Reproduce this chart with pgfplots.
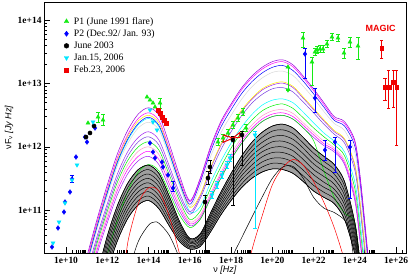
\documentclass[border=0pt]{standalone}
\usepackage{pgfplots}
\pgfplotsset{compat=1.18}
\usepackage{pgfplotstable}
\usepgfplotslibrary{fillbetween}
\usepackage{fontspec}
\setmainfont{Liberation Serif}
\newfontfamily\lsans{Liberation Sans}
\definecolor{cpurple}{RGB}{150,0,220}
\definecolor{cmag}{RGB}{255,0,255}
\definecolor{cblue}{RGB}{0,0,255}
\definecolor{cgray}{RGB}{215,215,215}
\definecolor{cyel}{RGB}{255,240,0}
\definecolor{cpur2}{RGB}{160,32,240}
\definecolor{cviol}{RGB}{120,60,225}
\definecolor{ccyan}{RGB}{0,255,255}
\definecolor{cgreen}{RGB}{0,240,0}
\definecolor{cpink}{RGB}{255,150,200}
\definecolor{dg}{RGB}{20,235,20}
\definecolor{dc}{RGB}{0,230,255}
\definecolor{dr}{RGB}{240,0,0}
\def\mx{10.301}
\foreach \n in {10,12,...,26}{\foreach \f in {301,477,602,699,778,845,903,954}{\xdef\mx{\mx,\n.\f}}}
\def\my{10.301}
\foreach \n in {10,...,14}{\foreach \f in {301,477,602,699,778,845,903,954}{\xdef\my{\my,\n.\f}}}
\pgfplotstableread{
x T B C D E F G H I J K L N b0 b1 b2 b3 b4 b5 b6 b7 b8
10.5 9.6 9.53 9.46 9.39 9.50 9.25 9.18 9.44 9.11 9.04 8.97 8.9 8.0 7.5 7.64 7.78 7.91 8.05 8.19 8.33 8.46 8.6
11.0 10.25 10.20 10.14 10.09 10.17 9.98 9.92 10.12 9.87 9.81 9.76 9.7 8.9 8.6 8.69 8.78 8.86 8.95 9.04 9.13 9.21 9.3
11.5 10.85 10.80 10.74 10.69 10.77 10.58 10.52 10.72 10.47 10.41 10.36 10.3 9.7 9.40 9.47 9.54 9.61 9.68 9.75 9.82 9.89 9.96
12.0 11.40 11.34 11.28 11.22 11.31 11.10 11.04 11.26 10.98 10.92 10.86 10.8 10.3 10.03 10.10 10.17 10.24 10.31 10.38 10.45 10.52 10.59
12.5 11.90 11.84 11.77 11.71 11.80 11.58 11.51 11.75 11.45 11.38 11.32 11.25 10.85 10.52 10.59 10.66 10.73 10.80 10.87 10.94 11.01 11.08
13.0 12.27 12.20 12.13 12.06 12.17 11.93 11.86 12.11 11.79 11.72 11.65 11.58 11.3 10.87 10.94 11.01 11.08 11.15 11.22 11.29 11.36 11.43
13.5 12.52 12.45 12.37 12.30 12.41 12.15 12.08 12.35 12.00 11.93 11.85 11.78 11.6 11.08 11.15 11.22 11.29 11.36 11.43 11.50 11.57 11.64
14.0 12.62 12.54 12.47 12.39 12.50 12.24 12.16 12.45 12.08 12.00 11.93 11.85 11.72 11.15 11.22 11.29 11.36 11.43 11.50 11.57 11.64 11.71
14.5 12.50 12.42 12.34 12.27 12.38 12.11 12.03 12.32 11.95 11.88 11.80 11.72 11.62 11.02 11.09 11.16 11.23 11.30 11.37 11.44 11.51 11.58
15.0 12.05 11.98 11.91 11.84 11.95 11.70 11.63 11.89 11.56 11.49 11.42 11.35 11.28 10.75 10.81 10.87 10.93 10.99 11.04 11.10 11.16 11.22
15.5 11.55 11.49 11.44 11.38 11.46 11.27 11.21 11.42 11.15 11.09 11.04 10.98 10.92 10.50 10.54 10.58 10.62 10.66 10.70 10.74 10.78 10.82
16.0 11.15 11.13 11.09 11.05 11.04 10.97 10.93 10.97 10.85 10.81 10.78 10.75 10.72 10.38 10.40 10.42 10.44 10.47 10.49 10.51 10.53 10.55
16.5 11.50 11.47 11.44 11.37 11.24 11.22 11.18 11.05 10.98 10.92 10.88 10.85 10.85 10.42 10.45 10.47 10.50 10.52 10.55 10.57 10.60 10.62
17.0 12.0 11.97 11.92 11.84 11.67 11.65 11.59 11.43 11.34 11.26 11.22 11.18 11.18 10.65 10.69 10.73 10.76 10.80 10.84 10.88 10.91 10.95
17.5 12.40 12.37 12.31 12.22 12.04 12.02 11.95 11.77 11.68 11.59 11.55 11.50 11.50 10.92 10.97 11.01 11.06 11.10 11.15 11.19 11.24 11.28
18.0 12.68 12.65 12.59 12.50 12.33 12.31 12.24 12.06 11.98 11.89 11.84 11.80 11.80 11.15 11.20 11.26 11.31 11.37 11.42 11.47 11.53 11.58
18.5 12.93 12.90 12.84 12.75 12.58 12.56 12.49 12.31 12.23 12.14 12.09 12.05 12.05 11.35 11.41 11.48 11.54 11.60 11.66 11.73 11.79 11.85
19.0 13.12 13.09 13.03 12.95 12.77 12.75 12.69 12.51 12.42 12.34 12.29 12.25 12.25 11.50 11.57 11.64 11.71 11.79 11.86 11.93 12.00 12.07
19.5 13.26 13.23 13.17 13.09 12.92 12.90 12.83 12.66 12.57 12.49 12.44 12.40 12.40 11.60 11.68 11.76 11.84 11.92 11.99 12.07 12.15 12.23
20.0 13.35 13.32 13.26 13.18 13.00 12.98 12.92 12.74 12.65 12.57 12.52 12.48 12.48 11.65 11.74 11.82 11.91 11.99 12.08 12.16 12.25 12.33
20.5 13.38 13.35 13.29 13.20 13.03 13.01 12.94 12.76 12.68 12.59 12.54 12.50 12.50 11.64 11.73 11.82 11.91 12.00 12.09 12.18 12.27 12.36
21.0 13.30 13.27 13.21 13.13 12.96 12.94 12.87 12.70 12.61 12.53 12.48 12.44 12.44 11.58 11.67 11.76 11.85 11.94 12.03 12.12 12.21 12.30
21.5 13.12 13.09 13.04 12.96 12.79 12.77 12.71 12.55 12.46 12.38 12.34 12.30 12.30 11.45 11.54 11.63 11.71 11.80 11.89 11.98 12.06 12.15
22.0 12.92 12.89 12.84 12.77 12.61 12.59 12.54 12.38 12.30 12.23 12.19 12.15 12.10 11.30 11.39 11.47 11.56 11.64 11.73 11.81 11.90 11.98
22.5 12.70 12.67 12.63 12.56 12.43 12.41 12.36 12.22 12.16 12.09 12.05 12.02 11.62 11.20 11.28 11.36 11.44 11.53 11.61 11.69 11.77 11.85
23.0 12.48 12.45 12.42 12.37 12.26 12.24 12.20 12.09 12.03 11.98 11.95 11.92 11.20 11.10 11.18 11.26 11.33 11.41 11.49 11.57 11.64 11.72
23.5 12.40 12.37 12.33 12.26 12.13 12.11 12.06 11.92 11.86 11.79 11.75 11.72 10.95 10.85 10.93 11.00 11.08 11.15 11.23 11.30 11.38 11.45
24.0 12.10 12.07 12.01 11.91 11.72 11.70 11.63 11.44 11.34 11.25 11.20 11.15 10.80 10.30 10.36 10.43 10.49 10.55 10.61 10.68 10.74 10.80
24.25 11.55 11.52 11.45 11.34 11.13 11.11 11.03 10.82 10.71 10.61 10.55 10.5 10.10 9.80 9.85 9.90 9.95 10.00 10.05 10.10 10.15 10.20
24.5 10.75 10.72 10.66 10.56 10.37 10.35 10.28 10.09 9.99 9.90 9.85 9.8 9.5 9.30 9.33 9.35 9.38 9.40 9.43 9.45 9.48 9.50
24.75 9.9 9.87 9.81 9.72 9.54 9.52 9.45 9.27 9.18 9.09 9.05 9.0 8.9 8.8 8.83 8.85 8.88 8.9 8.93 8.95 8.98 9.0
25.0 9.0 8.97 8.95 8.9 8.8 8.78 8.75 8.65 8.6 8.55 8.53 8.5 8.5 8.3 8.33 8.35 8.38 8.40 8.43 8.45 8.48 8.5
}\models
\begin{document}
\begin{tikzpicture}
\begin{axis}[
  scale only axis, width=362bp, height=251bp,
  xmin=8.93, xmax=26.48, ymin=10.318, ymax=14.296,
  axis line style={line width=0.8pt},
  tick pos=left, tick align=inside,
  major tick length=6bp, minor tick length=3bp,
  every tick/.style={line width=0.6pt, black},
  xtick={10,12,...,26},
  xticklabels={1e+10,1e+12,1e+14,1e+16,1e+18,1e+20,1e+22,1e+24,1e+26},
  ytick={11,12,13,14},
  yticklabels={1e+11,1e+12,1e+13,1e+14},
  minor xtick/.expanded={\mx},
  minor ytick/.expanded={\my},
  tick label style={font=\fontsize{9.5}{10}\selectfont\bfseries},
  xticklabel style={yshift=-1bp},
  yticklabel style={xshift=1bp},
  legend cell align=left,
  legend style={at={(rel axis cs:0.055,0.948)}, anchor=north west, draw=none, fill=none,
    font=\fontsize{9.8}{11}\selectfont, row sep=0bp, inner sep=0pt,
    /tikz/every odd column/.append style={column sep=3bp}},
  mc/.style={line width=0.5pt, smooth, tension=0.5, no marks, forget plot},
  eb/.style={only marks, forget plot, error bars/y dir=both, error bars/y explicit,
    error bars/error bar style={line width=0.8pt}, error bars/error mark options={rotate=90, mark size=1.6pt, line width=0.8pt}},
]
\addlegendimage{only marks, mark=triangle*, dg, mark size=2.6pt}
\addlegendentry{P1 (June 1991 flare)}
\addlegendimage{only marks, mark=diamond*, cblue, mark size=2.6pt}
\addlegendentry{P2 (Dec.92/ Jan. 93)}
\addlegendimage{only marks, mark=*, black, mark size=2.4pt}
\addlegendentry{June 2003}
\addlegendimage{only marks, mark=triangle*, dc, mark size=2.6pt, mark options={rotate=180}}
\addlegendentry{Jan.15, 2006}
\addlegendimage{only marks, mark=square*, dr, mark size=2.1pt}
\addlegendentry{Feb.23, 2006}
% colored model curves
\addplot[mc, cpink] table[y=J]{\models};
\addplot[mc, cmag] table[y=K]{\models};
\addplot[mc, cpur2] table[y=L]{\models};
\addplot[mc, cgreen] table[y=N]{\models};
\addplot[mc, cgreen] table[y=I]{\models};
\addplot[mc, ccyan] table[y=H]{\models};
\addplot[mc, cviol] table[y=G]{\models};
\addplot[mc, cpur2] table[y=F]{\models};
\addplot[mc, cyel] table[y=E]{\models};
\addplot[mc, cgray] table[y=D]{\models};
\addplot[mc, cblue] table[y=C]{\models};
\addplot[mc, cmag] table[y=B]{\models};
\addplot[mc, cpurple] table[y=T]{\models};
% black bundle
\addplot[mc, black, name path=bb] table[y=b0]{\models};
\addplot[mc, black, name path=bt] table[y=b8]{\models};
\addplot[gray!75, forget plot] fill between[of=bb and bt];
\addplot[mc, black] table[y=b0]{\models};
\addplot[mc, black] table[y=b1]{\models};
\addplot[mc, black] table[y=b2]{\models};
\addplot[mc, black] table[y=b3]{\models};
\addplot[mc, black] table[y=b4]{\models};
\addplot[mc, black] table[y=b5]{\models};
\addplot[mc, black] table[y=b6]{\models};
\addplot[mc, black] table[y=b7]{\models};
\addplot[mc, black] table[y=b8]{\models};
% low curves
\addplot[mc, red] coordinates {(12.8,9.9) (13.0,10.5) (13.5,11.1) (14.0,11.35) (14.5,11.3) (15.0,10.9) (15.5,10.3) (16.0,9.5)};
\addplot[mc, red] coordinates {(18.5,9.6) (19.0,10.35) (19.5,10.9) (20.0,11.40) (20.5,11.67) (21.0,11.80) (21.5,11.71) (22.0,11.45) (22.5,11.12) (23.0,10.72) (23.5,10.2) (24.0,9.6)};
\addplot[mc, black] coordinates {(12.5,9.5) (13.0,10.0) (13.5,10.5) (14.0,10.76) (14.3,10.81) (14.5,10.79) (15.0,10.6) (15.5,10.22) (16.0,9.6)};
\addplot[mc, black] coordinates {(17.5,9.6) (18.0,10.2) (18.5,10.55) (19.0,10.88) (19.5,11.2) (20.0,11.5) (20.5,11.68) (21.0,11.69) (21.5,11.5) (22.0,11.2) (22.5,11.03) (23.0,10.96) (23.5,10.84) (23.75,10.66) (24.0,10.1) (24.25,9.5)};
% P1 green
\addplot[dg, mark=triangle*, mark size=2.3pt, eb] coordinates {
(11.063,12.378) (11.548,12.473) +- (0,0.08) (11.790,12.426) +- (0,0.09)
(13.923,12.790) (14.068,12.743) (14.214,12.695) (14.311,12.632) (14.553,12.695) +- (0,0.08)
(17.364,12.077) +- (0,0.05) (17.607,12.141) +- (0,0.05) (17.849,12.220) +- (0,0.05)
(18.091,12.347) +- (0,0.05) (18.334,12.457) +- (0,0.05) (18.576,12.553) +- (0,0.05)
(18.720,12.300) +- (0,0.05)
(20.757,13.266) += (0,0) -= (0,0.365)
(21.485,13.725) += (0,0.095) -= (0,0.142)
(21.921,13.345) += (0,0.079) -= (0,0.365)
(22.066,13.503) +- (0,0.06) (22.163,13.535) +- (0,0.05) (22.308,13.551) +- (0,0.05)
(22.454,13.551) +- (0,0.05) (22.648,13.630) +- (0,0.05) (22.890,13.741) +- (0,0.05)
(23.181,13.725) +- (0,0.05) (23.472,13.488) +- (0,0.08) (23.763,13.662) +- (0,0.08)
(24.151,13.599) += (0,0.142) -= (0,0.206)
};
\addplot[only marks, forget plot, dg, mark=triangle*, mark size=2.3pt, mark options={rotate=180}] coordinates {(20.757,12.901)};
% P2 blue
\addplot[cblue, mark=diamond*, mark size=2.4pt, eb] coordinates {
(9.318,10.413) (9.609,10.714) (9.899,10.968) (9.948,11.126) (10.190,11.285)
(10.287,11.491) +- (0,0.05) (10.481,11.839) (10.917,12.156) (11.014,12.077) (11.402,12.299)
(14.068,12.061) (14.214,11.919) (14.311,11.824) (14.650,11.760) (14.698,11.681)
(14.941,11.554) (15.183,11.348) += (0,0.11) -= (0,0.06)
(21.582,13.472) += (0,0.095) -= (0,0.38)
(22.066,12.774) += (0,0.16) -= (0,0.22)
(22.551,11.950) +- (0,0.16)
(23.036,12.077) += (0,0.08) -= (0,0.475)
(23.763,11.998) += (0,0.11) -= (0,0.81)
};
% June 2003 black
\addplot[black, mark=*, mark size=2.1pt, eb] coordinates {
(10.966,12.156) (11.160,12.220) (11.354,12.331)
(16.977,11.681) +- (0,0.1) (16.880,11.507) +- (0,0.1)
(16.735,11.126) += (0,0.1) -= (0,0.85)
(18.091,12.109) += (0,0.05) -= (0,1.03)
(18.527,12.188) += (0,0.05) -= (0,0.475)
};
% Jan 2006 cyan
\addplot[dc, mark=triangle*, mark size=2.3pt, mark options={rotate=180}, eb] coordinates {
(9.366,10.476) (9.657,10.809) (9.948,11.110) (10.287,11.475) (10.530,11.713) (11.305,12.394)
(14.068,12.584) (14.214,12.394) (14.408,12.267)
(17.073,11.237) +- (0,0.06) (17.316,11.396) +- (0,0.06) (17.558,11.554) +- (0,0.06)
(17.801,11.713) +- (0,0.06) (17.946,11.824) +- (0,0.06)
(19.158,12.188) += (0,0.05) -= (0,1.474)
};
% Feb 2006 red
\addplot[dr, mark=square*, mark size=1.9pt, eb] coordinates {
(14.456,12.584) (14.553,12.537) (14.650,12.473) (14.747,12.426) (14.844,12.378)
(25.30,13.567) += (0,0.127) -= (0,0.159)
(25.46,12.949) += (0,0.142) -= (0,0.206)
(25.65,12.949) += (0,0.269) -= (0,0.333)
(25.86,13.028) += (0,0.19) -= (0,0.41)
(26.03,12.949) += (0,0.27) -= (0,0.92)
};
\addplot[dr, line width=1pt, forget plot] coordinates {(17.61,12.19) (18.09,12.14) (18.43,12.23) (18.43,12.15) (18.09,12.14) (17.61,12.07) (17.61,12.19)};
\node[font=\lsans\bfseries\fontsize{9}{10}\selectfont, text=dr] at (axis cs:25.25,13.87) {MAGIC};
\end{axis}
\node[rotate=90, font=\lsans\fontsize{9}{10}\selectfont] at ([xshift=-35bp]0,125.5bp) {νF\textsubscript{ν} \textit{[Jy Hz]}};
\node[font=\lsans\fontsize{9}{10}\selectfont] at (181bp,-17bp) {ν \textit{[Hz]}};
\pgfresetboundingbox
\useasboundingbox (-44bp,-26bp) rectangle (365bp,253bp);
\end{tikzpicture}
\end{document}
